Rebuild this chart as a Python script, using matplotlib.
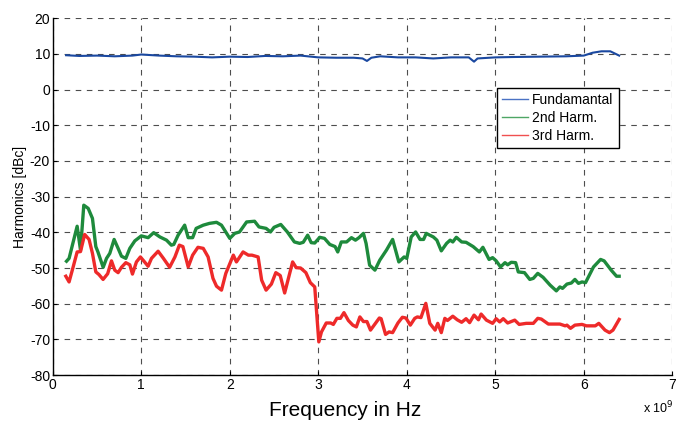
import numpy as np
import matplotlib
matplotlib.use('Agg')
import matplotlib.pyplot as plt

plt.rcParams['font.family'] = ['Liberation Sans Narrow', 'Liberation Sans', 'DejaVu Sans']

# frequency axis in GHz, converted to Hz when plotting
fund_f = [0.15, 0.3, 0.5, 0.7, 0.9, 1.0, 1.2, 1.4, 1.6, 1.8,
          2.0, 2.2, 2.4, 2.6, 2.8, 3.0, 3.2, 3.4, 3.5, 3.55,
          3.6, 3.7, 3.9, 4.1, 4.3, 4.5, 4.7, 4.76, 4.8, 5.0,
          5.2, 5.5, 5.8, 6.0, 6.1, 6.2, 6.3, 6.4]
fund_v = [9.6, 9.4, 9.5, 9.3, 9.5, 9.8, 9.5, 9.3, 9.2, 9.0,
          9.2, 9.1, 9.4, 9.3, 9.5, 9.0, 8.9, 8.9, 8.7, 8.0,
          8.9, 9.3, 9.0, 9.0, 8.7, 9.0, 9.0, 7.8, 8.7, 9.0,
          9.1, 9.2, 9.3, 9.5, 10.3, 10.7, 10.7, 9.5]

h2_f = [0.155, 0.184, 0.275, 0.313, 0.35, 0.40, 0.448, 0.486, 0.51, 0.569,
        0.607, 0.644, 0.693, 0.738, 0.776, 0.825, 0.87, 0.927, 1.0, 1.077,
        1.14, 1.21, 1.285, 1.34, 1.367, 1.416, 1.49, 1.53, 1.58, 1.62,
        1.70, 1.77, 1.85, 1.906, 2.0, 2.056, 2.11, 2.19, 2.28, 2.33,
        2.41, 2.46, 2.50, 2.576, 2.65, 2.73, 2.79, 2.83, 2.88, 2.92,
        2.96, 3.017, 3.07, 3.13, 3.19, 3.22, 3.26, 3.32, 3.375, 3.42,
        3.46, 3.51, 3.54, 3.58, 3.64, 3.695, 3.77, 3.84, 3.91, 3.97,
        4.00, 4.05, 4.10, 4.15, 4.19, 4.22, 4.30, 4.34, 4.39, 4.45,
        4.49, 4.52, 4.56, 4.62, 4.67, 4.75, 4.82, 4.86, 4.93, 4.97,
        5.01, 5.06, 5.11, 5.14, 5.18, 5.23, 5.26, 5.33, 5.39, 5.43,
        5.48, 5.54, 5.62, 5.69, 5.73, 5.76, 5.81, 5.86, 5.90, 5.94,
        5.98, 6.02, 6.11, 6.19, 6.23, 6.31, 6.37, 6.40]
h2_v = [-48.1, -47.3, -38.3, -45, -32.4, -33.3, -36.1, -44, -45.5, -49.8,
        -47.3, -45.9, -42, -44.5, -46.7, -47.3, -44.5, -42.4, -41, -41.5,
        -40.1, -41.3, -42.2, -43.6, -43.4, -40.8, -38, -41.5, -41.5, -38.9,
        -38, -37.5, -37.2, -38, -41.7, -40.3, -39.9, -37.1, -36.9, -38.5,
        -38.9, -39.9, -38.6, -37.8, -39.9, -42.7, -43.1, -42.8, -40.8, -42.9,
        -43, -41.4, -41.7, -43.4, -44, -45.5, -42.7, -42.7, -41.5, -42.2,
        -41.5, -40.3, -43.1, -49.2, -50.6, -47.8, -45, -42, -48.3, -46.9,
        -47.3, -41.3, -39.9, -42, -42, -40.3, -41.3, -42.2, -45.2, -43.1,
        -42.2, -42.7, -41.4, -42.7, -42.8, -44, -45.5, -44.2, -47.6, -47.1,
        -48, -49.7, -48.5, -49.1, -48.4, -48.5, -51.1, -51.3, -53.2, -52.9,
        -51.5, -52.6, -54.8, -56.4, -55.3, -55.7, -54.5, -54.2, -53.2, -54.3,
        -53.9, -54.1, -49.7, -47.6, -48, -50.6, -52.3, -52.3]

h3_f = [0.147, 0.184, 0.23, 0.275, 0.313, 0.36, 0.41, 0.448, 0.486, 0.52,
        0.568, 0.62, 0.663, 0.70, 0.738, 0.776, 0.825, 0.87, 0.90, 0.945,
        0.99, 1.077, 1.115, 1.19, 1.25, 1.32, 1.38, 1.43, 1.47, 1.53,
        1.58, 1.64, 1.70, 1.755, 1.81, 1.85, 1.906, 1.955, 2.04, 2.075,
        2.15, 2.21, 2.25, 2.32, 2.36, 2.41, 2.47, 2.52, 2.57, 2.62,
        2.71, 2.75, 2.80, 2.86, 2.91, 2.96, 3.006, 3.036, 3.09, 3.14,
        3.17, 3.21, 3.25, 3.29, 3.34, 3.39, 3.43, 3.47, 3.51, 3.55,
        3.59, 3.64, 3.69, 3.71, 3.76, 3.80, 3.84, 3.90, 3.95, 3.99,
        4.04, 4.09, 4.12, 4.16, 4.215, 4.26, 4.32, 4.35, 4.39, 4.43,
        4.46, 4.52, 4.57, 4.62, 4.67, 4.71, 4.76, 4.81, 4.84, 4.90,
        4.97, 5.01, 5.05, 5.09, 5.14, 5.22, 5.27, 5.35, 5.43, 5.48,
        5.52, 5.60, 5.73, 5.79, 5.81, 5.85, 5.90, 5.98, 6.03, 6.13,
        6.17, 6.24, 6.29, 6.33, 6.40]
h3_v = [-52.3, -53.9, -49.7, -45.5, -45.4, -40.6, -42, -45.9, -51.1, -51.8,
        -53.2, -51.6, -48, -50.6, -51.3, -49.8, -48.5, -49.1, -51.7, -48.3,
        -46.9, -49.5, -47.3, -45.3, -47.3, -49.8, -46.9, -43.6, -44, -49.7,
        -46.4, -44.2, -44.5, -46.9, -52.9, -55.1, -56.2, -51.5, -46.4, -48.3,
        -45.5, -46.4, -46.4, -46.9, -53.4, -56.2, -54.5, -51.3, -52.1, -57,
        -48.3, -49.9, -50, -51.3, -54.1, -55.3, -70.7, -67.9, -65.4, -65.4,
        -65.8, -64.1, -64.1, -62.5, -64.7, -66, -66.5, -63.7, -65, -65,
        -67.4, -65.7, -64, -64.2, -68.6, -67.9, -68.1, -65.4, -63.8, -64,
        -66, -64.1, -63.7, -63.9, -59.9, -65.5, -67.4, -65.5, -68.1, -64.1,
        -64.7, -63.5, -64.5, -65.2, -64.2, -65.3, -63.2, -64.5, -62.9, -64.6,
        -65.5, -64.2, -65.1, -64.2, -65.4, -64.6, -65.8, -65.5, -65.5, -64.1,
        -64.3, -65.7, -65.7, -66.2, -66, -66.9, -66, -65.8, -66.2, -66.2,
        -65.5, -67.4, -68.1, -67.4, -64.4]

x_ticks = [0, 1, 2, 3, 4, 5, 6, 7]
y_ticks = [20, 10, 0, -10, -20, -30, -40, -50, -60, -70, -80]

fig = plt.figure(figsize=(6.77, 4.21), dpi=100)
ax = fig.add_axes([0.078, 0.109, 0.915, 0.848])

ax.plot(np.array(fund_f) * 1e9, fund_v, color='#1a48a0', lw=1.5, label='Fundamantal')
ax.plot(np.array(h2_f) * 1e9, h2_v, color='#1e8a3c', lw=2.4, label='2nd Harm.')
ax.plot(np.array(h3_f) * 1e9, h3_v, color='#ee2a2a', lw=2.4, label='3rd Harm.')

ax.set_xlim(0, 7e9)
ax.set_ylim(-80, 20)
ax.set_xticks([t * 1e9 for t in x_ticks])
ax.set_xticklabels([str(t) for t in x_ticks])
ax.set_yticks(y_ticks)
ax.set_yticklabels([str(t) for t in y_ticks])
ax.tick_params(direction='in', length=3, labelsize=10, pad=2, colors='black')

ax.grid(True, color='0.3', linestyle=(0, (5, 5)), linewidth=0.8)
ax.spines['top'].set_visible(False)
ax.spines['right'].set_visible(False)
for s in ['left', 'bottom']:
    ax.spines[s].set_linewidth(1.0)

ax.set_ylabel('Harmonics [dBc]', fontsize=10, labelpad=2)
fig.text(0.51, 0.026, 'Frequency in Hz', fontsize=15, ha='center', va='center')
fig.text(0.972, 0.03, r'x 10$^9$', fontsize=9, ha='center', va='center')

leg = ax.legend(loc='upper left', bbox_to_anchor=(0.717, 0.805), fontsize=10,
                fancybox=False, framealpha=1, edgecolor='black',
                borderpad=0.35, labelspacing=0.3, handlelength=1.9,
                handletextpad=0.3, borderaxespad=0)
leg.get_frame().set_linewidth(1.0)
for line, c in zip(leg.get_lines(), ['#4a72c4', '#4ea665', '#f05050']):
    line.set_linewidth(1.0)
    line.set_color(c)

plt.savefig('out.png', dpi=100)
